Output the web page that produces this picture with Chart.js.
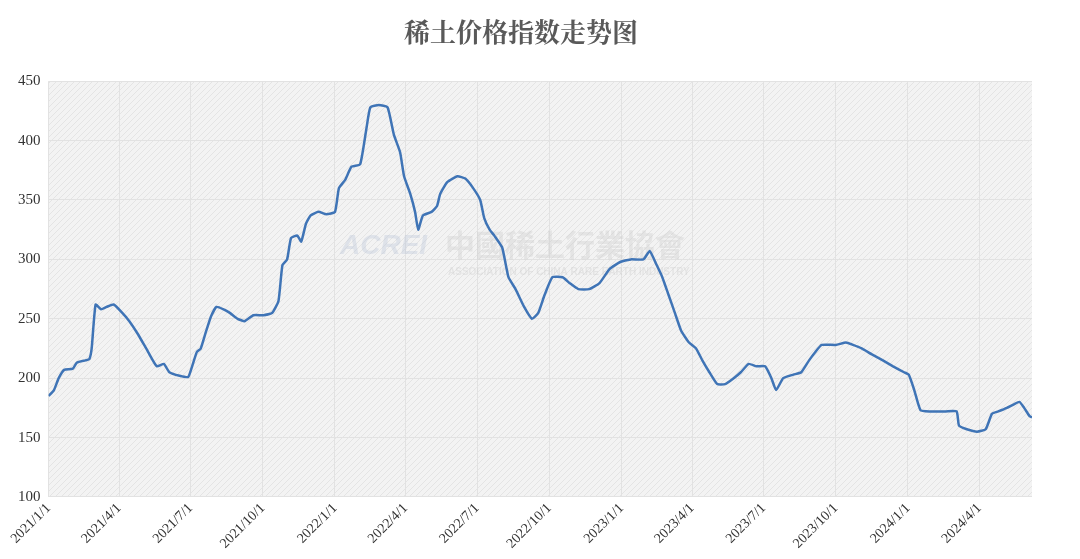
<!DOCTYPE html>
<html lang="zh">
<head>
  <meta charset="utf-8"/>
  <title>稀土价格指数走势图</title>
  <script src="https://cdn.jsdelivr.net/npm/chart.js"></script>
  <style>
    html, body { margin: 0; padding: 0; background: #fff; }
    #wrap { width: 1080px; height: 559px; }
  </style>
</head>
<body>
<div id="wrap"><canvas id="priceChart"></canvas></div>
<script>
  // days since 2021-01-01 and index value
  const days = [0,7,13,20,31,36,47,52,55,60,67,74,83,94,103,114,127,138,147,154,167,178,183,189,194,201,207,214,223,231,241,250,261,274,285,293,298,304,309,317,322,328,334,344,354,365,370,378,386,397,405,410,421,432,440,448,453,461,467,471,477,488,495,499,508,521,531,541,550,555,562,568,578,586,595,606,616,624,632,642,655,664,675,689,702,715,729,742,758,766,775,782,790,798,806,816,825,833,842,852,862,873,882,892,902,913,921,927,936,949,959,969,977,985,1003,1016,1025,1036,1049,1063,1076,1090,1096,1103,1111,1123,1143,1157,1160,1170,1183,1194,1202,1210,1221,1230,1237,1243,1250,1253];
  const values = [185,190,200,207,208,213,215,216,225,262,258,260,262,255,248,237,222,210,212,205,202,201,210,222,225,240,252,260,258,255,250,248,253,253,255,265,295,300,318,320,315,330,337,340,338,340,360,367,378,380,410,428,430,428,405,390,370,355,340,325,337,340,345,355,365,370,368,360,350,335,325,320,310,285,275,260,250,255,270,285,285,280,275,275,280,292,298,300,300,307,295,285,270,255,240,230,225,215,205,195,195,200,205,212,210,210,200,190,200,203,205,215,222,228,228,230,228,225,220,215,210,205,203,190,173,172,172,172,160,157,155,157,170,172,175,178,180,175,168,167];
  const tickDays = [0,90,181,273,365,455,546,638,730,820,911,1003,1095,1186];
  const tickLabels = ['2021/1/1','2021/4/1','2021/7/1','2021/10/1','2022/1/1','2022/4/1','2022/7/1','2022/10/1','2023/1/1','2023/4/1','2023/7/1','2023/10/1','2024/1/1','2024/4/1'];

  const serif = '"Liberation Serif", "Noto Serif CJK SC", "Noto Sans CJK SC", serif';

  // hatched gray plot background + faint watermark
  const plotBg = {
    id: 'plotBg',
    beforeDraw(chart) {
      const { ctx, chartArea: a } = chart;
      const p = document.createElement('canvas');
      p.width = 6; p.height = 6;
      const pc = p.getContext('2d');
      pc.fillStyle = '#f3f3f3';
      pc.fillRect(0, 0, 6, 6);
      pc.strokeStyle = '#e4e4e4';
      pc.lineWidth = 1;
      pc.beginPath(); pc.moveTo(0, 6); pc.lineTo(6, 0); pc.stroke();
      ctx.save();
      ctx.fillStyle = ctx.createPattern(p, 'repeat');
      ctx.fillRect(a.left, a.top, a.right - a.left, a.bottom - a.top);
      ctx.restore();
    },
    beforeDatasetsDraw(chart) {
      const { ctx } = chart;
      ctx.save();
      ctx.globalAlpha = 0.35;
      ctx.fillStyle = '#b8c4d8';
      ctx.font = 'italic bold 28px "Liberation Sans", sans-serif';
      ctx.fillText('ACREI', 340, 254);
      ctx.fillStyle = '#c8c8c8';
      ctx.font = 'bold 30px "Noto Sans CJK TC", sans-serif';
      ctx.fillText('中國稀土行業協會', 445, 256);
      ctx.font = 'bold 10px "Liberation Sans", sans-serif';
      ctx.fillText('ASSOCIATION OF CHINA RARE EARTH INDUSTRY', 448, 275);
      ctx.restore();
    }
  };

  new Chart(document.getElementById('priceChart'), {
    type: 'line',
    data: {
      datasets: [{
        data: days.map((d, i) => ({ x: d, y: values[i] })),
        borderColor: '#3f74b6',
        borderWidth: 2.5,
        pointRadius: 0,
        tension: 0.15
      }]
    },
    options: {
      responsive: true,
      maintainAspectRatio: false,
      animation: false,
      layout: { padding: { left: 10, right: 48, top: 4, bottom: 4 } },
      plugins: {
        legend: { display: false },
        tooltip: { enabled: false },
        title: {
          display: true,
          text: '稀土价格指数走势图',
          color: '#595959',
          font: { family: serif, size: 26 },
          padding: { top: 16, bottom: 30 }
        }
      },
      scales: {
        x: {
          type: 'linear',
          min: 0,
          max: 1253,
          afterBuildTicks(scale) { scale.ticks = tickDays.map(v => ({ value: v })); },
          ticks: {
            autoSkip: false,
            maxRotation: 45,
            minRotation: 45,
            color: '#333',
            font: { family: serif, size: 14 },
            callback: (v) => tickLabels[tickDays.indexOf(v)]
          },
          grid: { color: '#e2e2e2', drawTicks: false },
          border: { display: false }
        },
        y: {
          min: 100,
          max: 450,
          ticks: { stepSize: 50, color: '#333', font: { family: serif, size: 15 }, padding: 8 },
          grid: { color: '#e2e2e2', drawTicks: false },
          border: { display: false }
        }
      }
    },
    plugins: [plotBg]
  });
</script>
</body>
</html>
